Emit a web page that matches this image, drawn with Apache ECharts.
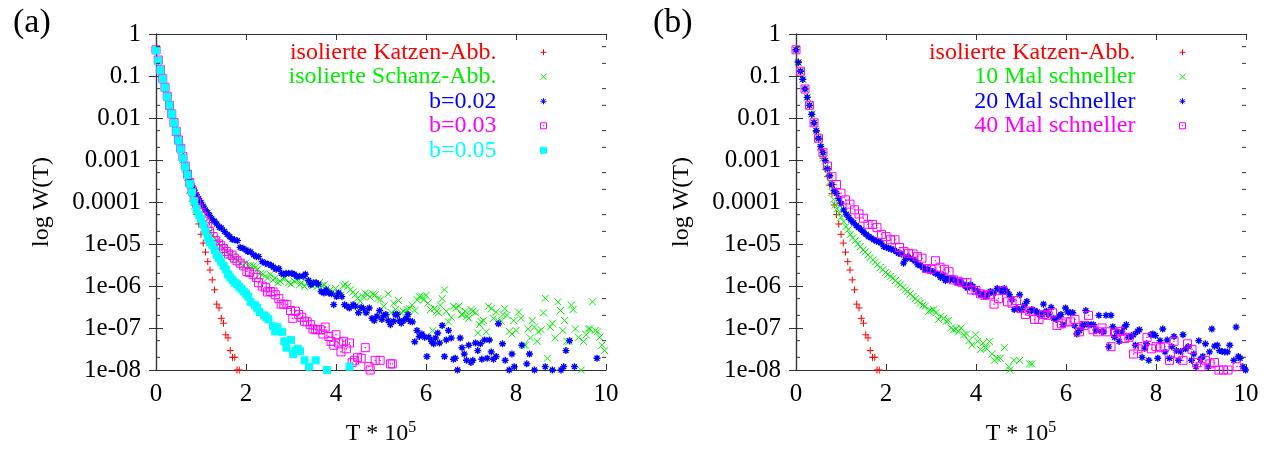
<!DOCTYPE html>
<html>
<head>
<meta charset="utf-8">
<script src="https://cdn.jsdelivr.net/npm/echarts@6/dist/echarts.min.js"></script>
<style>
  html, body { margin: 0; padding: 0; background: #fff; }
  #chart { width: 1275px; height: 451px; }
</style>
</head>
<body>
<div id="chart"></div>
<script>
// Waiting-time distributions W(T), T in units of 1e5 steps.

// tick labels of the logarithmic y axis, indexed by decade (10^0 ... 10^-8)
const yTickLabels = ['1', '0.1', '0.01', '0.001', '0.0001', '1e-05', '1e-06', '1e-07', '1e-08'];
// minor ticks drawn at 5 and 2 of every decade
const yMinorTicks = [0.5, 0.2, 0.05, 0.02, 0.005, 0.002, 5e-4, 2e-4, 5e-5, 2e-5, 5e-6, 2e-6, 5e-7, 2e-7, 5e-8, 2e-8];
const xTicks = [0, 2, 4, 6, 8, 10];

const panelLabels = ['(a)', '(b)'];
const namesA = ['isolierte Katzen-Abb.', 'isolierte Schanz-Abb.', 'b=0.02', 'b=0.03', 'b=0.05'];
const namesB = ['isolierte Katzen-Abb.', '10 Mal schneller', '20 Mal schneller', '40 Mal schneller'];

// isolated cat map (same run in both panels)
const katzen = [[0,0.42],[0.05,0.22],[0.1,0.13],[0.15,0.083],[0.2,0.05],[0.25,0.031],[0.3,0.02],[0.35,0.012],[0.4,0.0076],[0.45,0.0048],[0.5,0.0031],[0.55,0.0018],[0.6,0.0011],[0.65,0.0006],[0.7,0.0004],[0.75,0.00025],[0.8,0.00016],[0.85,8.5e-5],[0.9,5e-5],[0.95,3e-5],[1.0,1.7e-5],[1.05,1.05e-5],[1.1,6.4e-6],[1.15,3.8e-6],[1.2,2.4e-6],[1.25,1.4e-6],[1.3,8.1e-7],[1.35,3.7e-7],[1.4,3.0e-7],[1.45,1.7e-7],[1.5,1.3e-7],[1.55,6.9e-8],[1.6,5.8e-8],[1.65,2.9e-8],[1.7,2e-8],[1.75,2e-8],[1.8,1e-8],[1.85,1e-8]];

// isolated Schanz map
const schanz = [[0,0.41],[0.05,0.23],[0.1,0.135],[0.15,0.084],[0.2,0.052],[0.25,0.032],[0.3,0.0195],[0.35,0.012],[0.4,0.0074],[0.45,0.0046],[0.5,0.0028],[0.55,0.0017],[0.6,0.001],[0.65,0.0006],[0.7,0.00038],[0.75,0.00019],[0.8,0.00012],[0.85,8e-5],[0.9,6e-5],[0.95,4.8e-5],[1.0,3.8e-5],[1.05,3.2e-5],[1.1,2.6e-5],[1.15,2.2e-5],[1.2,1.9e-5],[1.25,1.6e-5],[1.3,1.35e-5],[1.35,1.2e-5],[1.4,1e-5],[1.45,8.9e-6],[1.5,7.9e-6],[1.55,7.1e-6],[1.6,6.3e-6],[1.65,5.5e-6],[1.7,5e-6],[1.76,4.5e-6],[1.81,4.2e-6],[1.87,3.5e-6],[1.93,3.1e-6],[1.99,3.5e-6],[2.04,3e-6],[2.1,3.1e-6],[2.16,3e-6],[2.21,2.8e-6],[2.26,2.5e-6],[2.32,2e-6],[2.38,1.9e-6],[2.43,1.7e-6],[2.48,1.55e-6],[2.54,1.9e-6],[2.6,1.4e-6],[2.65,1.55e-6],[2.71,1.2e-6],[2.76,1.3e-6],[2.82,1.5e-6],[2.87,1.55e-6],[2.95,1.2e-6],[3.0,1.1e-6],[3.07,1.3e-6],[3.13,1.4e-6],[3.19,1.07e-6],[3.24,1.2e-6],[3.3,9.8e-7],[3.36,1.2e-6],[3.41,1.17e-6],[3.47,1.02e-6],[3.52,1.07e-6],[3.58,9.8e-7],[3.63,1.2e-6],[3.69,1.02e-6],[3.74,1.07e-6],[3.8,8.9e-7],[3.87,8.1e-7],[3.93,7.4e-7],[3.99,8.7e-7],[4.04,6.8e-7],[4.1,6e-7],[4.16,1.02e-6],[4.21,1.1e-6],[4.26,9.8e-7],[4.32,8.1e-7],[4.38,7.2e-7],[4.43,6.2e-7],[4.48,5.1e-7],[4.54,4.3e-7],[4.6,5.6e-7],[4.65,6.8e-7],[4.7,6.2e-7],[4.76,5.4e-7],[4.82,6.5e-7],[4.87,6.2e-7],[4.93,5e-7],[4.99,4.7e-7],[5.06,3.3e-7],[5.16,6.5e-7],[5.23,2.3e-7],[5.28,3.9e-7],[5.32,2.75e-7],[5.39,4.5e-7],[5.45,2.3e-7],[5.5,2.5e-7],[5.58,2.75e-7],[5.63,2.9e-7],[5.69,3.5e-7],[5.75,2.6e-7],[5.8,4.7e-7],[5.85,5.6e-7],[5.91,5.6e-7],[5.95,4.7e-7],[6.0,6e-7],[6.04,3.9e-7],[6.1,2.75e-7],[6.15,8.7e-8],[6.19,2.9e-7],[6.24,2.5e-7],[6.28,2.3e-7],[6.32,3.5e-7],[6.36,5e-7],[6.41,8.1e-7],[6.45,2.5e-7],[6.5,1.4e-7],[6.56,1.8e-7],[6.61,3.3e-7],[6.67,3e-7],[6.73,3.3e-7],[6.79,2.1e-7],[6.82,2.1e-7],[6.87,2.5e-7],[6.91,1.9e-7],[6.95,1.7e-7],[7.0,2.75e-7],[7.04,2.5e-7],[7.1,2.3e-7],[7.15,7.6e-8],[7.19,1.2e-7],[7.23,1.4e-7],[7.28,1.5e-7],[7.34,8.1e-8],[7.39,3.3e-7],[7.45,2.9e-7],[7.5,1.7e-7],[7.56,2.4e-7],[7.61,1.45e-7],[7.67,1.45e-7],[7.71,2.1e-7],[7.75,2.9e-7],[7.8,2e-7],[7.85,8.3e-8],[7.91,7.2e-8],[7.95,1.5e-7],[8.0,8.7e-8],[8.06,2.4e-7],[8.11,1.7e-7],[8.17,3.9e-8],[8.21,3.9e-8],[8.27,9.5e-8],[8.32,5.8e-8],[8.36,1.5e-7],[8.41,1.05e-7],[8.47,4.8e-8],[8.5,8.1e-8],[8.56,9.1e-8],[8.61,2.3e-7],[8.65,5.1e-7],[8.7,1.9e-8],[8.76,1.05e-7],[8.81,1.3e-7],[8.87,5.8e-8],[8.93,4.2e-7],[8.99,2.6e-7],[9.04,8.7e-8],[9.08,1.5e-7],[9.13,4.8e-8],[9.18,4.8e-8],[9.23,3.5e-7],[9.27,2.75e-7],[9.32,9.5e-8],[9.39,6e-8],[9.45,1e-8],[9.5,4.8e-8],[9.56,6.9e-8],[9.61,9.5e-8],[9.64,9.5e-8],[9.7,4.2e-7],[9.76,8.7e-8],[9.81,8.1e-8],[9.86,6e-8],[9.91,3.9e-8],[9.97,2.9e-8]];

// coupled maps, coupling b = 0.02
const b002 = [[0,0.41],[0.05,0.23],[0.1,0.137],[0.15,0.085],[0.2,0.053],[0.25,0.033],[0.3,0.02],[0.35,0.0125],[0.4,0.0078],[0.45,0.0049],[0.5,0.0031],[0.55,0.002],[0.6,0.0012],[0.65,0.00075],[0.7,0.0005],[0.75,0.00033],[0.8,0.00024],[0.85,0.00019],[0.9,0.00015],[0.95,0.00012],[1.0,9.8e-5],[1.05,7.9e-5],[1.1,6.5e-5],[1.15,5.6e-5],[1.19,4.8e-5],[1.24,4e-5],[1.3,3.5e-5],[1.35,3e-5],[1.41,2.5e-5],[1.45,2.4e-5],[1.52,2e-5],[1.58,1.7e-5],[1.64,1.5e-5],[1.69,1.3e-5],[1.74,1.26e-5],[1.81,1.2e-5],[1.87,8.3e-6],[1.93,7.9e-6],[2.0,7.2e-6],[2.04,6.6e-6],[2.1,6.5e-6],[2.17,5.5e-6],[2.23,5e-6],[2.28,5e-6],[2.36,3.8e-6],[2.43,3.5e-6],[2.5,3.3e-6],[2.56,3.1e-6],[2.61,2.8e-6],[2.67,2.5e-6],[2.73,2.6e-6],[2.79,2e-6],[2.84,1.9e-6],[2.89,2e-6],[2.95,2e-6],[3.02,2e-6],[3.07,1.9e-6],[3.13,1.7e-6],[3.19,1.7e-6],[3.27,1.7e-6],[3.32,1.9e-6],[3.39,1.35e-6],[3.44,1.07e-6],[3.5,1.2e-6],[3.56,1.2e-6],[3.61,1.1e-6],[3.67,7.4e-7],[3.73,6.8e-7],[3.78,8.1e-7],[3.84,6.8e-7],[3.9,6.5e-7],[3.95,3.6e-7],[4.01,5.6e-7],[4.06,6.8e-7],[4.13,5.6e-7],[4.19,3.6e-7],[4.24,3.3e-7],[4.3,3e-7],[4.38,3.6e-7],[4.43,3.3e-7],[4.5,2.3e-7],[4.56,3.1e-7],[4.61,2.9e-7],[4.67,2.3e-7],[4.74,3e-7],[4.8,1.7e-7],[4.85,1.5e-7],[4.91,1.9e-7],[4.97,2.6e-7],[5.02,1.6e-7],[5.06,2e-7],[5.11,2.1e-7],[5.16,1.5e-7],[5.21,1.2e-7],[5.28,1.45e-7],[5.32,2.1e-7],[5.36,2.1e-7],[5.41,1.5e-7],[5.45,1.3e-7],[5.5,1.5e-7],[5.56,1.7e-7],[5.6,2.1e-7],[5.65,1.45e-7],[5.7,1.4e-7],[5.75,4.7e-8],[5.8,8.7e-8],[5.85,6.3e-8],[5.91,7.2e-8],[5.97,6e-8],[6.02,2.1e-8],[6.06,6e-8],[6.12,4.8e-8],[6.17,4.2e-8],[6.21,5.8e-8],[6.26,7.6e-8],[6.3,4.4e-8],[6.36,1.15e-7],[6.41,2.1e-8],[6.45,5.2e-8],[6.5,8.7e-8],[6.56,5.8e-8],[6.61,1.8e-8],[6.65,1.9e-8],[6.7,1e-8],[6.76,5.8e-8],[6.8,3.4e-8],[6.85,2.4e-8],[6.9,1.7e-8],[6.95,3.9e-8],[7.0,1.5e-8],[7.04,1.7e-8],[7.1,4.4e-8],[7.15,2.9e-8],[7.21,4.2e-8],[7.24,1.8e-8],[7.3,5.2e-8],[7.36,1.9e-8],[7.41,5.2e-8],[7.45,2.7e-8],[7.5,1.8e-8],[7.56,2.1e-8],[7.61,1.26e-7],[7.7,4.2e-8],[7.76,1.7e-8],[7.85,1e-8],[7.91,2.4e-8],[7.96,1.2e-8],[8.13,3.9e-8],[8.24,1.4e-8],[8.3,2.4e-8],[8.41,1e-8],[8.65,1.2e-8],[8.81,1e-8],[9.0,1e-8],[9.06,1.2e-8],[9.11,2.9e-8],[9.19,5e-8],[9.3,1.2e-8],[9.8,1.9e-8]];

// coupling b = 0.03
const b003 = [[0,0.42],[0.05,0.24],[0.1,0.14],[0.15,0.086],[0.2,0.054],[0.25,0.033],[0.3,0.02],[0.35,0.0125],[0.4,0.0078],[0.45,0.0048],[0.5,0.003],[0.55,0.0019],[0.6,0.0012],[0.65,0.00072],[0.7,0.00046],[0.75,0.00029],[0.8,0.00019],[0.85,0.000135],[0.9,9.5e-5],[0.95,7.2e-5],[1.0,5.6e-5],[1.05,4.5e-5],[1.1,3.5e-5],[1.15,2.6e-5],[1.19,2e-5],[1.27,1.5e-5],[1.32,1.2e-5],[1.39,1e-5],[1.44,9.1e-6],[1.5,7.8e-6],[1.56,6.6e-6],[1.61,5.8e-6],[1.69,5.4e-6],[1.74,4.6e-6],[1.8,4e-6],[1.87,3.5e-6],[1.95,3e-6],[2.02,2.2e-6],[2.08,2.1e-6],[2.16,1.9e-6],[2.23,1.6e-6],[2.28,1.2e-6],[2.36,1e-6],[2.43,9.3e-7],[2.48,7.2e-7],[2.54,7.4e-7],[2.6,7.2e-7],[2.65,6.2e-7],[2.73,5e-7],[2.78,3.7e-7],[2.84,3.7e-7],[2.91,3.6e-7],[2.99,2.6e-7],[3.04,1.7e-7],[3.1,2.5e-7],[3.17,2.1e-7],[3.24,1.8e-7],[3.3,1.45e-7],[3.36,1.4e-7],[3.43,1.2e-7],[3.49,9.5e-8],[3.54,9.1e-8],[3.59,9.1e-8],[3.65,9.1e-8],[3.71,7.2e-8],[3.76,1.05e-7],[3.84,6.3e-8],[3.89,4.8e-8],[3.95,3.9e-8],[4.0,6.9e-8],[4.06,4.4e-8],[4.11,2.7e-8],[4.17,4.8e-8],[4.23,3.2e-8],[4.3,4.4e-8],[4.36,1.5e-8],[4.41,1.7e-8],[4.48,2e-8],[4.56,1.9e-8],[4.65,3.4e-8],[4.73,1.2e-8],[4.76,1e-8],[4.87,1.7e-8],[4.98,1.7e-8],[5.21,1.4e-8],[5.25,1.4e-8]];

// coupling b = 0.05
const b005 = [[0,0.41],[0.05,0.23],[0.1,0.137],[0.15,0.085],[0.2,0.053],[0.25,0.032],[0.3,0.02],[0.35,0.0124],[0.4,0.0077],[0.45,0.0048],[0.5,0.0029],[0.55,0.0018],[0.6,0.0011],[0.65,0.00069],[0.7,0.00044],[0.75,0.00027],[0.8,0.00017],[0.85,0.000105],[0.9,6.8e-5],[0.95,4.9e-5],[1.0,4e-5],[1.05,2.9e-5],[1.1,2e-5],[1.15,1.4e-5],[1.2,1.1e-5],[1.25,9.5e-6],[1.3,7.2e-6],[1.35,5.5e-6],[1.4,4.6e-6],[1.45,3.8e-6],[1.5,3e-6],[1.55,2.5e-6],[1.6,1.9e-6],[1.65,1.6e-6],[1.7,1.4e-6],[1.75,1.2e-6],[1.8,1.1e-6],[1.85,9.6e-7],[1.9,8.5e-7],[1.95,7.4e-7],[2.0,6.5e-7],[2.05,5.6e-7],[2.1,4.2e-7],[2.2,3.5e-7],[2.25,3e-7],[2.3,2.4e-7],[2.4,2e-7],[2.45,1.8e-7],[2.5,1.6e-7],[2.6,1.1e-7],[2.65,8.3e-8],[2.7,1.05e-7],[2.8,8.1e-8],[2.85,4.8e-8],[2.9,3.4e-8],[3.0,5.2e-8],[3.05,2.4e-8],[3.1,2.9e-8],[3.15,3.2e-8],[3.2,2.8e-8],[3.3,1.7e-8],[3.4,1.2e-8],[3.55,1.7e-8],[3.8,1e-8],[4.3,1.2e-8]];

// Schanz map driven 10, 20 and 40 times faster
const fast10 = [[0,0.42],[0.05,0.21],[0.1,0.13],[0.15,0.083],[0.2,0.049],[0.25,0.031],[0.3,0.02],[0.35,0.0123],[0.4,0.0077],[0.45,0.0049],[0.5,0.0032],[0.55,0.002],[0.6,0.0011],[0.65,0.00069],[0.7,0.00047],[0.75,0.0003],[0.8,0.00017],[0.84,1.15e-4],[0.87,8.5e-5],[0.91,6.9e-5],[0.96,5.4e-5],[1.0,4.3e-5],[1.06,3.4e-5],[1.11,2.6e-5],[1.16,2.2e-5],[1.21,1.7e-5],[1.26,1.4e-5],[1.32,1.2e-5],[1.37,1e-5],[1.43,8.7e-6],[1.49,7.2e-6],[1.54,6.5e-6],[1.6,5.5e-6],[1.65,4.8e-6],[1.71,4.2e-6],[1.76,3.7e-6],[1.81,3.2e-6],[1.87,2.75e-6],[1.93,2.45e-6],[1.99,2.1e-6],[2.04,1.9e-6],[2.1,1.7e-6],[2.16,1.55e-6],[2.21,1.35e-6],[2.26,1.17e-6],[2.32,1.07e-6],[2.38,9.3e-7],[2.43,8.1e-7],[2.48,7.4e-7],[2.54,6.5e-7],[2.6,5.6e-7],[2.65,5e-7],[2.71,4.5e-7],[2.76,3.9e-7],[2.82,3.5e-7],[2.87,3.3e-7],[2.95,2.5e-7],[3.0,2.6e-7],[3.06,2.75e-7],[3.11,2.3e-7],[3.17,1.6e-7],[3.22,1.9e-7],[3.28,1.7e-7],[3.34,1.45e-7],[3.39,1.5e-7],[3.45,1e-7],[3.5,9.1e-8],[3.56,9.5e-8],[3.61,8.1e-8],[3.67,1e-7],[3.73,6.9e-8],[3.79,7.2e-8],[3.84,5e-8],[3.91,3.9e-8],[3.99,6.9e-8],[4.04,4.8e-8],[4.1,3.1e-8],[4.16,4.4e-8],[4.21,3.4e-8],[4.24,3.2e-8],[4.3,4.8e-8],[4.36,2.4e-8],[4.41,1.7e-8],[4.47,1.9e-8],[4.54,1.9e-8],[4.63,3.4e-8],[4.73,1.2e-8],[4.75,1e-8],[4.84,1.7e-8],[4.97,1.7e-8],[5.19,1.4e-8],[5.24,1.4e-8]];

const fast20 = [[0,0.42],[0.05,0.21],[0.1,0.13],[0.15,0.083],[0.2,0.049],[0.25,0.031],[0.3,0.02],[0.35,0.0123],[0.4,0.0077],[0.45,0.005],[0.5,0.0033],[0.55,0.0021],[0.6,0.0015],[0.65,0.00096],[0.7,0.00062],[0.75,0.00042],[0.8,0.00026],[0.85,0.00019],[0.9,0.00016],[0.95,0.00012],[1.0,9.3e-5],[1.06,6.5e-5],[1.12,5.1e-5],[1.17,4.3e-5],[1.22,3.7e-5],[1.28,3.2e-5],[1.34,2.75e-5],[1.39,2.45e-5],[1.45,2.2e-5],[1.5,1.9e-5],[1.56,1.7e-5],[1.61,1.5e-5],[1.67,1.4e-5],[1.73,1.26e-5],[1.79,1.17e-5],[1.84,1.15e-5],[1.89,1.05e-5],[1.95,8.7e-6],[2.01,8.3e-6],[2.06,7.9e-6],[2.11,7.6e-6],[2.17,7.2e-6],[2.23,6.6e-6],[2.28,6e-6],[2.34,5.8e-6],[2.39,3.5e-6],[2.43,4.3e-6],[2.48,5e-6],[2.54,4.6e-6],[2.6,4.3e-6],[2.65,3.9e-6],[2.71,3.2e-6],[2.76,3.1e-6],[2.82,2.75e-6],[2.87,2.5e-6],[2.93,2.5e-6],[2.99,2.3e-6],[3.04,2.2e-6],[3.1,2e-6],[3.15,1.9e-6],[3.21,1.6e-6],[3.27,1.8e-6],[3.32,1.35e-6],[3.37,1.55e-6],[3.43,1.4e-6],[3.49,1.5e-6],[3.54,1.35e-6],[3.59,1.2e-6],[3.65,1.3e-6],[3.71,1.1e-6],[3.76,1e-6],[3.81,8.9e-7],[3.87,1.07e-6],[3.93,9.8e-7],[3.99,8.1e-7],[4.04,7.4e-7],[4.1,6.2e-7],[4.16,6.5e-7],[4.21,5.6e-7],[4.26,6.2e-7],[4.32,7.4e-7],[4.39,6.8e-7],[4.47,8.7e-7],[4.53,8.1e-7],[4.58,7.4e-7],[4.63,8.7e-7],[4.69,7.4e-7],[4.74,6.2e-7],[4.8,4.7e-7],[4.85,2.75e-7],[4.91,2.9e-7],[4.97,6.2e-7],[5.01,2.75e-7],[5.08,3.5e-7],[5.13,4.3e-7],[5.19,2.5e-7],[5.24,2.75e-7],[5.3,2.6e-7],[5.36,2.4e-7],[5.41,2.1e-7],[5.47,2.1e-7],[5.5,3.7e-7],[5.56,2.5e-7],[5.61,2.1e-7],[5.67,3.1e-7],[5.73,1.7e-7],[5.78,1.6e-7],[5.84,1.9e-7],[5.89,2.1e-7],[5.93,1.2e-7],[5.99,3e-7],[6.04,2.4e-7],[6.1,2.3e-7],[6.15,2.3e-7],[6.19,1.15e-7],[6.24,7.2e-8],[6.3,8.7e-8],[6.36,1.15e-7],[6.41,1.2e-7],[6.44,2.6e-7],[6.5,1.2e-7],[6.56,1.2e-7],[6.61,1.2e-7],[6.67,8.7e-8],[6.73,2e-7],[6.79,8.3e-8],[6.84,8.1e-8],[6.89,2e-7],[6.95,3.6e-8],[7.0,2e-7],[7.04,1.07e-7],[7.08,6e-8],[7.13,8.1e-8],[7.18,4.8e-8],[7.24,8.1e-8],[7.3,1.05e-7],[7.34,1.2e-7],[7.39,6e-8],[7.45,6.3e-8],[7.5,6.9e-8],[7.54,3.9e-8],[7.59,8.3e-8],[7.63,9.1e-8],[7.69,2e-8],[7.75,3.3e-8],[7.79,4.2e-8],[7.84,1.7e-8],[7.89,6.9e-8],[7.93,7.2e-8],[7.99,6.6e-8],[8.04,1.9e-8],[8.09,5e-8],[8.15,9.5e-8],[8.2,2.7e-8],[8.25,5.2e-8],[8.3,1.9e-8],[8.35,3.6e-8],[8.4,6.3e-8],[8.45,2.9e-8],[8.5,1.7e-8],[8.55,2.75e-8],[8.6,6.9e-8],[8.66,3.2e-8],[8.72,3.6e-8],[8.79,1.7e-8],[8.84,2.4e-8],[8.89,1.2e-8],[8.95,5e-8],[8.99,1.8e-8],[9.04,2.1e-8],[9.1,4.2e-8],[9.16,1.2e-8],[9.19,2.7e-8],[9.24,9.5e-8],[9.3,3.7e-8],[9.36,3.9e-8],[9.41,2.9e-8],[9.47,2.75e-8],[9.53,2.7e-8],[9.59,2.7e-8],[9.64,3.9e-8],[9.73,1.7e-8],[9.78,1.05e-7],[9.83,2.1e-8],[9.87,1.9e-8],[9.93,1.2e-8],[9.99,1e-8]];

const fast40 = [[0,0.42],[0.1,0.13],[0.2,0.049],[0.3,0.02],[0.4,0.0077],[0.5,0.0033],[0.6,0.0015],[0.7,0.00072],[0.8,0.0004],[0.9,0.00026],[1.0,0.000162],[1.1,0.000112],[1.2,8.9e-5],[1.3,6.5e-5],[1.4,5.2e-5],[1.5,4.1e-5],[1.6,2.95e-5],[1.7,2.9e-5],[1.8,2.45e-5],[1.9,1.7e-5],[2.0,1.5e-5],[2.1,1.26e-5],[2.2,1.26e-5],[2.3,8.3e-6],[2.4,6.6e-6],[2.5,6e-6],[2.6,5.8e-6],[2.7,5e-6],[2.8,4.6e-6],[2.9,2.6e-6],[3.0,2.5e-6],[3.1,4e-6],[3.2,2.8e-6],[3.3,2.5e-6],[3.4,2.2e-6],[3.5,1.4e-6],[3.6,1.3e-6],[3.7,1.2e-6],[3.8,1.2e-6],[3.9,8.1e-7],[4.0,7.8e-7],[4.1,6.5e-7],[4.2,6e-7],[4.3,6.2e-7],[4.4,3.7e-7],[4.5,5e-7],[4.6,7.8e-7],[4.7,4.2e-7],[4.8,3.9e-7],[4.9,4.5e-7],[5.0,2.9e-7],[5.1,2.1e-7],[5.2,2.5e-7],[5.3,1.6e-7],[5.4,1.6e-7],[5.5,2.1e-7],[5.6,2e-7],[5.7,2.3e-7],[5.8,1.15e-7],[5.9,1.26e-7],[6.0,1.4e-7],[6.1,1.4e-7],[6.2,1.6e-7],[6.3,8.1e-8],[6.4,1.15e-7],[6.5,2e-7],[6.6,9.1e-8],[6.7,8.1e-8],[6.8,1e-7],[6.9,8.1e-8],[7.0,3.6e-8],[7.1,7.6e-8],[7.2,8.3e-8],[7.3,5.6e-8],[7.4,6e-8],[7.5,2.4e-8],[7.6,3.2e-8],[7.7,3.6e-8],[7.8,6e-8],[7.9,3.2e-8],[8.0,3.6e-8],[8.1,3.4e-8],[8.2,3.6e-8],[8.3,1.7e-8],[8.4,4.8e-8],[8.5,2.4e-8],[8.6,1.7e-8],[8.7,4.2e-8],[8.8,3.1e-8],[8.9,1.5e-8],[9.0,1.2e-8],[9.1,1.7e-8],[9.2,1.4e-8],[9.3,1.5e-8],[9.4,1e-8],[9.5,1e-8],[9.6,1e-8],[9.8,1.2e-8]];

const FONT = 'Liberation Serif';
const AXIS_COLOR = '#333';
const COLORS = { red: '#ff0000', green: '#00ee00', blue: '#0000ff', magenta: '#ff00ff', cyan: '#00ffff' };

// point shapes: plus, cross, star, open box with centre dot, filled box
const SYMBOLS = {
  plus: 'path://M0,5L10,5M5,0L5,10',
  cross: 'path://M0,0L10,10M0,10L10,0',
  star: 'path://M0,5L10,5M5,0L5,10M1.5,1.5L8.5,8.5M1.5,8.5L8.5,1.5',
  box: 'path://M0,0L10,0L10,10L0,10ZM4.6,4.6L5.4,4.6L5.4,5.4L4.6,5.4Z',
  filled: 'rect'
};

const GRIDS = [
  { left: 156, top: 34, width: 450, height: 336 },
  { left: 796, top: 34, width: 450, height: 336 }
];

function points(name, data, panel, shape, color, size, filled, lw) {
  return {
    type: 'scatter', name, data,
    xAxisIndex: panel * 2, yAxisIndex: panel * 2,
    symbol: SYMBOLS[shape], symbolSize: size,
    itemStyle: { color: filled ? color : 'transparent', borderColor: color, borderWidth: lw || 1, opacity: 1 },
    emphasis: { disabled: true },
    animation: false, silent: true
  };
}

// short inner ticks at the 2 and 5 positions on both vertical frame sides
function minorTicks(panel) {
  return {
    type: 'custom', xAxisIndex: panel * 2, yAxisIndex: panel * 2,
    silent: true, clip: false, animation: false, z: 5,
    data: yMinorTicks.map(v => [0, v]),
    renderItem(params, api) {
      const y = api.coord([0, api.value(1)])[1];
      const c = params.coordSys;
      return { type: 'group', children: [
        { type: 'line', shape: { x1: c.x, y1: y, x2: c.x + 4, y2: y }, style: { stroke: AXIS_COLOR, lineWidth: 1 } },
        { type: 'line', shape: { x1: c.x + c.width, y1: y, x2: c.x + c.width - 4, y2: y }, style: { stroke: AXIS_COLOR, lineWidth: 1 } }
      ]};
    }
  };
}

function xAxes(panel) {
  const common = {
    type: 'value', gridIndex: panel, min: xTicks[0], max: xTicks[xTicks.length - 1], interval: 2,
    splitLine: { show: false },
    axisLine: { show: true, onZero: false, lineStyle: { color: AXIS_COLOR, width: 1.2 } },
    axisTick: { show: true, inside: true, length: 6, lineStyle: { color: AXIS_COLOR } }
  };
  return [
    Object.assign({}, common, {
      position: 'bottom',
      axisLabel: { fontFamily: FONT, fontSize: 25, color: '#000', margin: 12 },
      name: 'T * 10{sup|5}', nameLocation: 'middle', nameGap: 50,
      nameTextStyle: { fontFamily: FONT, fontSize: 24, color: '#000',
        rich: { sup: { fontFamily: FONT, fontSize: 16, color: '#000', padding: [0, 0, 12, 0] } } }
    }),
    Object.assign({}, common, { position: 'top', axisLabel: { show: false } })
  ];
}

function yAxes(panel) {
  const common = {
    type: 'log', logBase: 10, gridIndex: panel, min: 1e-8, max: 1, interval: 1,
    splitLine: { show: false }, minorTick: { show: false },
    axisLine: { show: true, lineStyle: { color: AXIS_COLOR, width: 1.2 } },
    axisTick: { show: true, inside: true, length: 7, lineStyle: { color: AXIS_COLOR } }
  };
  return [
    Object.assign({}, common, {
      position: 'left',
      axisLabel: { fontFamily: FONT, fontSize: 25, color: '#000', margin: 15,
        formatter: v => yTickLabels[-Math.round(Math.log10(v))] },
      name: 'log W(T)', nameLocation: 'middle', nameRotate: 90, nameGap: 102,
      nameTextStyle: { fontFamily: FONT, fontSize: 24, color: '#000' }
    }),
    Object.assign({}, common, { position: 'right', axisLabel: { show: false } })
  ];
}

// key: coloured name right-aligned, a fixed gap, then the point shape
function legend(names, colors, right) {
  return {
    orient: 'vertical', align: 'right', right, top: 40, padding: 0,
    itemWidth: 6, itemHeight: 6, itemGap: 0, selectedMode: false,
    itemStyle: { borderWidth: 1 },
    formatter: name => name + '{gap|}',
    textStyle: { fontFamily: FONT, fontSize: 24, lineHeight: 24.5,
      rich: { gap: { width: 39, height: 10 } } },
    data: names.map((n, i) => ({ name: n, textStyle: { color: colors[i] } }))
  };
}

const colorsA = [COLORS.red, COLORS.green, COLORS.blue, COLORS.magenta, COLORS.cyan];
const colorsB = [COLORS.red, COLORS.green, COLORS.blue, COLORS.magenta];

const chart = echarts.init(document.getElementById('chart'), null, { renderer: 'canvas' });
chart.setOption({
  backgroundColor: '#fff',
  animation: false,
  title: [
    { text: panelLabels[0], left: 8, top: 1, textStyle: { fontFamily: FONT, fontSize: 34, fontWeight: 'normal', color: '#000' } },
    { text: panelLabels[1], left: 648, top: 1, textStyle: { fontFamily: FONT, fontSize: 34, fontWeight: 'normal', color: '#000' } }
  ],
  grid: GRIDS.map(g => Object.assign({ outerBoundsMode: 'none', containLabel: false }, g)),
  xAxis: [...xAxes(0), ...xAxes(1)],
  yAxis: [...yAxes(0), ...yAxes(1)],
  legend: [legend(namesA, colorsA, 728), legend(namesB, colorsB, 89)],
  series: [
    points(namesA[0], katzen, 0, 'plus', COLORS.red, 7, true),
    points(namesA[1], schanz, 0, 'cross', COLORS.green, 7, true),
    points(namesA[2], b002, 0, 'star', COLORS.blue, 7, true, 1.4),
    points(namesA[3], b003, 0, 'box', COLORS.magenta, 8, false),
    points(namesA[4], b005, 0, 'filled', COLORS.cyan, 7, true),
    minorTicks(0),
    points(namesB[0], katzen, 1, 'plus', COLORS.red, 7, true),
    points(namesB[1], fast10, 1, 'cross', COLORS.green, 7, true),
    points(namesB[2], fast20, 1, 'star', COLORS.blue, 7, true, 1.4),
    points(namesB[3], fast40, 1, 'box', COLORS.magenta, 8, false),
    minorTicks(1)
  ]
});
</script>
</body>
</html>
